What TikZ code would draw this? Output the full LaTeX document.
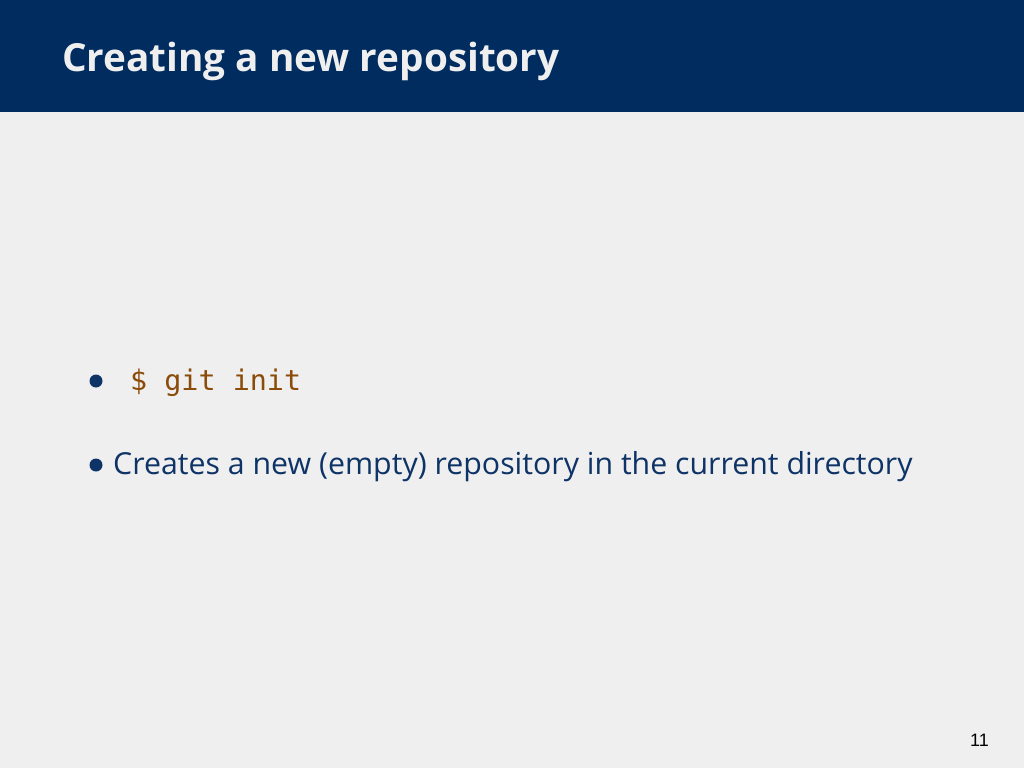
\documentclass[tikz,border=0pt]{standalone}
\usepackage{fontspec}
\setmainfont{Open Sans}
\newfontfamily\codefont{DejaVu Sans Mono}
\newfontfamily\numfont{Liberation Sans}
\definecolor{hdr}{HTML}{002C5F}
\definecolor{bg}{HTML}{EFEFEF}
\definecolor{codec}{HTML}{8B4C0A}
\definecolor{txt}{HTML}{0E3366}
\begin{document}
\begin{tikzpicture}[x=1pt,y=-1pt,
  txtstyle/.style={inner sep=0pt,anchor=base west,text=txt,font=\fontsize{30.3}{36}\selectfont},
  bul/.style={circle,fill=txt,inner sep=0pt,minimum size=13pt}]
\useasboundingbox (0,0) rectangle (1024,768);
\fill[bg] (0,0) rectangle (1024,768);
\fill[hdr] (0,0) rectangle (1024,112);
\node[inner sep=0pt,anchor=base west,text=bg,font=\fontsize{38.7}{44}\selectfont\bfseries] (title) at (62,71) {Creating a new repository};
\node[bul] (b1) at (96,381) {};
\node[inner sep=0pt,anchor=base west,text=codec,font=\codefont\fontsize{28.4}{34}\selectfont] (code) at (130,390) {\$ git init};
\node[bul] (b2) at (96,465) {};
\node[txtstyle] (desc) at (113,474) {Creates a new (empty) repository in the current directory};
\node[inner sep=0pt,anchor=base east,text=black,font=\numfont\fontsize{18}{20}\selectfont] (num) at (989,746) {11};
\end{tikzpicture}
\end{document}
